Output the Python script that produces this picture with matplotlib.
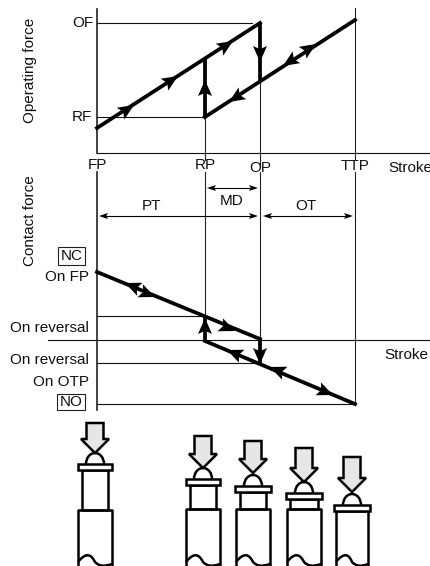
import matplotlib
matplotlib.use('Agg')
import matplotlib.pyplot as plt
from matplotlib.patches import Polygon,Rectangle,Arc,PathPatch
from matplotlib.path import Path

plt.rcParams['font.family']=['Liberation Sans','DejaVu Sans']

#picture is laid out in pixels, y goes down
FP,RP,OP,TTP=97,205,260,355
OF,RF,axisTop=23,117,153
axisBottom=340

#force curves (stroke, y)
forceUp=[(FP,128),(OP,OF)]
forceDown=[(RP,RF),(TTP,20)]
forceJumps=[(RP,RF,59),(OP,OF,81)]
contactUp=[(FP,272),(OP,339)]
contactDown=[(RP,341),(TTP,404)]
contactJumps=[(RP,341,316),(OP,339,363)]

#arrow heads: tip x, tip y, direction x, direction y
heads=[(134,105,1,-.64),(178,76,1,-.64),(233,41,1,-.64),
       (316,44,1,-.65),(283,66,-1,.65),(229,102,-1,.65),
       (205,80,0,-1),(260,62,0,1),
       (125,283,-1,-.42),(155,297,1,.42),(235,331,1,.42),
       (227,350,-1,-.42),(270,367,-1,-.42),(333,395,1,.42),
       (205,318,0,-1),(260,364,0,1)]

#thin lines
hLines=[(97,252,OF),(97,RP,RF),(97,431,axisTop),(97,RP,316),(48,431,axisBottom),(97,OP,363),(97,TTP,404)]
vLines=[(FP,9,153),(RP,RF,160),(OP,OF,165),(TTP,8,160),
        (FP,172,410),(RP,172,axisBottom),(OP,172,363),(TTP,172,404)]
dims=[(207,258,188),(99,258,216),(263,353,216)]

labels=[('OF',93,OF,'right'),('RF',92,RF,'right'),
        ('FP',FP,165,'center'),('RP',RP,165,'center'),('OP',OP,168,'center'),('TTP',TTP,166,'center'),
        ('Stroke',388,168,'left'),('Stroke',384,355,'left'),
        ('MD',232,201,'center'),('PT',152,206,'center'),('OT',306,206,'center'),
        ('On FP',89,277,'right'),('On reversal',89,328,'right'),('On reversal',89,360,'right'),('On OTP',89,382,'right')]
boxes=[('NC',58,247,27,18),('NO',57,394,28,16)]

#switches: centre, shaft top, tip, collar top, collar half width, stem half width, body top, body half width
switches=[(95,423,453,464,17,13,510,17),
          (203,436,468,479,17,13,509,17),
          (253,441,473,486,18,13,509,17),
          (304,448,482,493,18,14,509,17),
          (352,457,492,505,18,15,511,16)]

fig=plt.figure(figsize=(4.31,5.66),dpi=100)
ax=fig.add_axes([0,0,1,1])
ax.set_xlim(0,431)
ax.set_ylim(566,0)
ax.axis('off')

thin=.8
thick=2.7
mid=1.8
fs=11

def head(x,y,dx,dy,size=16,width=7,color='black',z=5):
    n=(dx*dx+dy*dy)**.5
    dx,dy=dx/n,dy/n
    px,py=-dy,dx
    pts=[(x,y),(x-dx*size+px*width,y-dy*size+py*width),(x-dx*size*.8,y-dy*size*.8),(x-dx*size-px*width,y-dy*size-py*width)]
    ax.add_patch(Polygon(pts,closed=True,fc=color,ec='none',zorder=z))

for a,b,y in hLines:
    ax.plot([a,b],[y,y],color='#111111',lw=thin,zorder=1)
for x,a,b in vLines:
    ax.plot([x,x],[a,b],color='#222222',lw=thin if x!=FP else 1.2,zorder=1)

for line in [forceUp,forceDown,contactUp,contactDown]:
    ax.plot([line[0][0],line[1][0]],[line[0][1],line[1][1]],color='black',lw=thick,solid_capstyle='projecting',zorder=3)
for x,a,b in forceJumps+contactJumps:
    ax.plot([x,x],[a,b],color='black',lw=thick,solid_capstyle='butt',zorder=3)

for h in heads:
    head(*h)

for a,b,y in dims:
    ax.plot([a+4,b-4],[y,y],color='black',lw=thin,zorder=2)
    head(a,y,-1,0,size=9,width=3)
    head(b,y,1,0,size=9,width=3)

for t,x,y,ha in labels:
    ax.text(x,y,t,ha=ha,va='center',fontsize=fs,color='#111111')
ax.text(30,70,'Operating force',rotation=90,ha='center',va='center',fontsize=fs,color='#111111')
ax.text(30,221,'Contact force',rotation=90,ha='center',va='center',fontsize=fs,color='#111111')
for t,x,y,w,h in boxes:
    ax.add_patch(Rectangle((x,y),w,h,fc='white',ec='#222222',lw=thin,zorder=2))
    ax.text(x+w/2,y+h/2+.5,t,ha='center',va='center',fontsize=fs,color='#111111',zorder=3)

for c,shaftTop,tip,collarTop,collarW,stemW,bodyTop,bodyW in switches:
    collarBottom=collarTop+6
    neck=tip-14
    ax.add_patch(Polygon([(c-8.5,shaftTop),(c+8.5,shaftTop),(c+8.5,neck),(c+14,neck),(c,tip),(c-14,neck),(c-8.5,neck)],
                         closed=True,fc='#e6e6e6',ec='black',lw=mid,zorder=4))
    ax.add_patch(Arc((c,collarTop),18,22,theta1=180,theta2=360,ec='black',lw=mid,zorder=3))
    ax.add_patch(Rectangle((c-collarW,collarTop),2*collarW,collarBottom-collarTop,fc='white',ec='black',lw=mid,zorder=3))
    if bodyTop>collarBottom:
        ax.add_patch(Rectangle((c-stemW,collarBottom),2*stemW,bodyTop-collarBottom,fc='white',ec='black',lw=mid,zorder=2))
    ax.plot([c-bodyW,c-bodyW,c+bodyW,c+bodyW],[566,bodyTop,bodyTop,566],color='black',lw=mid,zorder=2)
    wave=Path([(c-bodyW,562),(c-bodyW+8,552),(c-bodyW+13,554),(c,562),(c+4,566),(c+8,567),(c+bodyW,564)],
              [Path.MOVETO]+[Path.CURVE4]*6)
    ax.add_patch(PathPatch(wave,fc='none',ec='black',lw=mid,zorder=2))

fig.savefig('out.png',dpi=100)
